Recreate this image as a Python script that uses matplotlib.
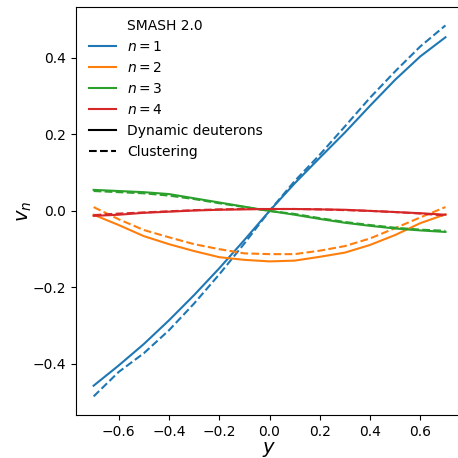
import matplotlib
matplotlib.use("Agg")
import matplotlib.pyplot as plt
from matplotlib.lines import Line2D

# rapidity bins
rapidity = [-0.7, -0.6, -0.5, -0.4, -0.3, -0.2, -0.1, 0.0,
            0.1, 0.2, 0.3, 0.4, 0.5, 0.6, 0.7]

# flow coefficients, dynamic deuterons (solid)
v1_dyn = [-0.457, -0.404, -0.348, -0.286, -0.220, -0.150, -0.076, 0.0,
          0.072, 0.139, 0.205, 0.275, 0.343, 0.404, 0.454]
v2_dyn = [-0.010, -0.037, -0.066, -0.087, -0.105, -0.121, -0.128, -0.132,
          -0.130, -0.120, -0.109, -0.089, -0.063, -0.032, -0.009]
v3_dyn = [0.055, 0.052, 0.049, 0.044, 0.033, 0.022, 0.011, 0.0,
          -0.010, -0.021, -0.031, -0.039, -0.046, -0.051, -0.055]
v4_dyn = [-0.013, -0.010, -0.005, -0.002, 0.001, 0.003, 0.004, 0.005,
          0.005, 0.004, 0.003, 0.0, -0.003, -0.006, -0.010]

# flow coefficients, clustering (dashed)
v1_clu = [-0.485, -0.421, -0.372, -0.312, -0.242, -0.166, -0.085, 0.0,
          0.078, 0.147, 0.221, 0.296, 0.365, 0.430, 0.485]
v2_clu = [0.010, -0.022, -0.050, -0.069, -0.087, -0.100, -0.111, -0.113,
          -0.113, -0.104, -0.092, -0.072, -0.045, -0.017, 0.010]
v3_clu = [0.052, 0.049, 0.046, 0.040, 0.031, 0.020, 0.010, 0.0,
          -0.008, -0.019, -0.029, -0.037, -0.044, -0.049, -0.052]
v4_clu = [-0.011, -0.007, -0.004, -0.001, 0.002, 0.004, 0.005, 0.005,
          0.005, 0.004, 0.002, 0.0, -0.003, -0.007, -0.012]

harmonics = [1, 2, 3, 4]
colors = ["C0", "C1", "C2", "C3"]
dynamic = [v1_dyn, v2_dyn, v3_dyn, v4_dyn]
clustering = [v1_clu, v2_clu, v3_clu, v4_clu]

fig = plt.figure(figsize=(4.58, 4.58), dpi=100)
ax = fig.add_axes([0.166, 0.094, 0.845, 0.891])

for col, vd, vc in zip(colors, dynamic, clustering):
    ax.plot(rapidity, vd, color=col, lw=1.5, ls="-")
    ax.plot(rapidity, vc, color=col, lw=1.5, ls="--")

ax.set_xlabel("$y$", fontsize=14, labelpad=1)
ax.set_ylabel("$v_n$", fontsize=14, labelpad=-1)
ax.set_xticks([-0.6, -0.4, -0.2, 0.0, 0.2, 0.4, 0.6])
ax.set_yticks([-0.4, -0.2, 0.0, 0.2, 0.4])

# legend built from proxies: title row, harmonics, then line styles
handles = [Line2D([], [], ls="none", label="SMASH 2.0")]
for n, col in zip(harmonics, colors):
    handles.append(Line2D([], [], color=col, lw=1.5, label=f"$n = {n}$"))
handles.append(Line2D([], [], color="black", lw=1.5, ls="-", label="Dynamic deuterons"))
handles.append(Line2D([], [], color="black", lw=1.5, ls="--", label="Clustering"))
ax.legend(handles=handles, loc="upper left", frameon=False, fontsize=10)

fig.savefig("out.png", dpi=100)
